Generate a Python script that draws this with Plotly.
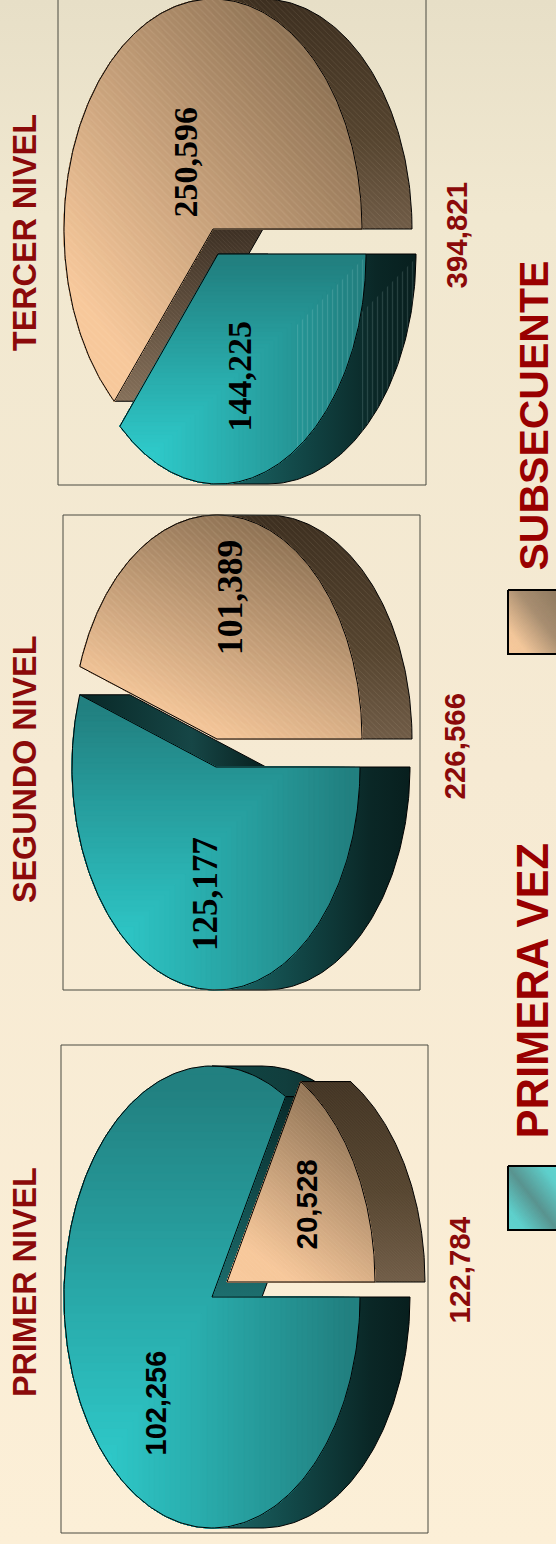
import numpy as np
import plotly.graph_objects as go

# ---------- data ----------
LEVELS = ["PRIMER NIVEL", "SEGUNDO NIVEL", "TERCER NIVEL"]
PRIMERA_VEZ = [102256, 125177, 144225]
SUBSECUENTE = [20528, 101389, 250596]
TOTALS = [122784, 226566, 394821]
SERIES_NAMES = ["PRIMERA VEZ", "SUBSECUENTE"]

# ---------- layout ----------
W, H = 556, 1544
DEPTH = 50
GEOM = [
    dict(frame=(61, 1045, 428, 1533), blue=(212, 1297, 148, 231), tan=(227, 1282, 148, 231),
         order=("blue", "tan"), title=(25, 1282), total=(458.5, 1270),
         lab_blue=(155.5, 1403, 29, "Liberation Sans"), lab_tan=(305.5, 1205, 29.5, "Liberation Sans"),
         tanw=(.35, .65), hatch=3),
    dict(frame=(63, 515, 420, 990), blue=(216, 767, 144, 223), tan=(217, 739, 145, 224),
         order=("tan", "blue"), title=(25, 770), total=(453.5, 746),
         lab_blue=(205, 894, 35, "Liberation Serif"), lab_tan=(230, 598, 35.5, "Liberation Serif"),
         tanw=(.35, .65), hatch=5),
    dict(frame=(58, -3, 426, 485), blue=(218, 254, 148, 230), tan=(213, 229, 149, 230),
         order=("tan", "blue"), title=(25, 233), total=(455.5, 235),
         lab_blue=(238.5, 376, 34, "Liberation Serif"), lab_tan=(184.5, 162, 34, "Liberation Serif"),
         tanw=(.5, .5), hatch=5),
]
DARK_RED = "#8b0a0a"


def arc(c, a0, a1, n=90):
    t = np.radians(np.linspace(a0, a1, n))
    return c[0] + c[2] * np.cos(t), c[1] - c[3] * np.sin(t)


def clip(x, y, nx, ny, d):
    """Keep the part of the polygon where nx*x + ny*y <= d."""
    ox, oy = [], []
    n = len(x)
    for i in range(n):
        x0, y0, x1, y1 = x[i], y[i], x[(i + 1) % n], y[(i + 1) % n]
        f0, f1 = nx * x0 + ny * y0 - d, nx * x1 + ny * y1 - d
        if f0 <= 0:
            ox.append(x0); oy.append(y0)
        if f0 * f1 < 0:
            s = f0 / (f0 - f1)
            ox.append(x0 + s * (x1 - x0)); oy.append(y0 + s * (y1 - y0))
    return np.array(ox), np.array(oy)


def hex2rgb(h):
    return np.array([int(h[i:i + 2], 16) for i in (1, 3, 5)], float)


def mix(stops, t):
    """stops = [(pos, '#hex'), ...]"""
    for (p0, c0), (p1, c1) in zip(stops, stops[1:]):
        if t <= p1:
            s = max(0, (t - p0) / (p1 - p0))
            v = hex2rgb(c0) * (1 - s) + hex2rgb(c1) * s
            return "rgb(%d,%d,%d)" % tuple(v)
    return "rgb(%d,%d,%d)" % tuple(hex2rgb(stops[-1][1]))


fig = go.Figure()


def poly(x, y, fill=None, line=None, lw=1, grad=None, pattern=None):
    kw = dict(x=list(x) + [x[0]], y=list(y) + [y[0]], mode="lines", fill="toself",
              hoverinfo="skip", showlegend=False,
              line=dict(color=line or "rgba(0,0,0,0)", width=lw if line else 0))
    kw["fillcolor"] = fill or "rgba(0,0,0,0)"
    if grad:
        kw["fillgradient"] = grad
    if pattern:
        kw["fillpattern"] = pattern
    fig.add_trace(go.Scatter(**kw))


def outline(x, y, lw=1):
    fig.add_trace(go.Scatter(x=list(x) + [x[0]], y=list(y) + [y[0]], mode="lines",
                             line=dict(color="#000000", width=lw),
                             hoverinfo="skip", showlegend=False))


def corner_gradient(x, y, stops, steps=56):
    x0, x1, y0, y1 = min(x), max(x), min(y), max(y)
    for i in range(steps, 0, -1):
        t = i / steps
        cx, cy = clip(x, y, 1, 0, x0 + (x1 - x0) * t)
        if len(cx) >= 3:
            cx, cy = clip(cx, cy, 0, -1, -(y1 - (y1 - y0) * t))
        if len(cx) >= 3:
            poly(cx, cy, fill=mix(stops, t), line=mix(stops, t), lw=0.5)


def diag_gradient(x, y, stops, wx, wy, steps=56):
    x0, x1, y0, y1 = min(x), max(x), min(y), max(y)
    for i in range(steps, 0, -1):
        t = i / steps
        nx, ny = wx / (x1 - x0), -wy / (y1 - y0)
        cx, cy = clip(x, y, nx, ny, t + nx * x0 + ny * y1)
        if len(cx) >= 3:
            poly(cx, cy, fill=mix(stops, t), line=mix(stops, t), lw=0.5)


def hatch(size):
    return dict(shape="\\", fgcolor="rgba(255,235,205,0.2)", bgcolor="rgba(0,0,0,0)",
                size=size, solidity=0.22)


TEAL_STOPS = [(0, "#2fc9c9"), (.15, "#2fc9c9"), (.97, "#228080"), (1, "#228080")]
TAN_STOPS = [(0, "#f9ca9d"), (.17, "#f7c89b"), (.85, "#8f7355"), (1, "#8f7355")]
STREAK = dict(shape="|", fgcolor="rgba(210,240,235,0.28)", bgcolor="rgba(0,0,0,0)", size=5, solidity=0.25)

# ---------- background ----------
poly([0, W, W, 0], [0, 0, H, H],
     grad=dict(type="vertical", start=0, stop=H,
               colorscale=[[0, "#e7dfc7"], [.14, "#f1e8d0"], [.5, "#f6ead3"], [1, "#fcefd7"]]))

# ---------- pies ----------
for idx, g in enumerate(GEOM):
    total = PRIMERA_VEZ[idx] + SUBSECUENTE[idx]
    ang_blue = PRIMERA_VEZ[idx] / total * 360
    ang_tan = SUBSECUENTE[idx] / total * 360

    for which in g["order"]:
        c = g[which]
        if which == "blue":
            a0, a1 = -ang_blue, 0.0
        else:
            a0, a1 = 0.0, ang_tan

        # radial wall at the far edge of the slice
        ea = a0 if which == "blue" else a1
        ex, ey = arc(c, ea, ea, 1)
        fx = [c[0], c[0] + DEPTH, ex[0] + DEPTH, ex[0]]
        fy = [c[1], c[1], ey[0], ey[0]]
        if which == "blue":
            if idx == 0:
                gr = dict(type="vertical", start=float(ey[0]), stop=float(c[1]),
                          colorscale=[[0, "#082a2a"], [1, "#1d6e6e"]])
            else:
                gr = dict(type="horizontal", start=float(ex[0]), stop=float(c[0] + DEPTH),
                          colorscale=[[0, "#082726"], [.6, "#164646"], [1, "#08201f"]])
            poly(fx, fy, line="#000000", grad=gr)
        else:
            gr = dict(type="vertical", start=float(c[1]), stop=float(ey[0]),
                      colorscale=[[0, "#3d3024"], [1, "#85705a"]])
            poly(fx, fy, line="#000000", grad=gr)
            poly(fx, fy, pattern=hatch(3))

        # outer wall: the part of the rim that faces the viewer
        ranges = []
        lo, hi = max(a0, -90), min(a1, 90)
        if hi > lo:
            ranges.append((lo, hi))
        if a0 < -270:
            ranges.append((a0, -270))
        for r0, r1 in ranges:
            ax, ay = arc(c, r0, r1)
            px = np.r_[ax, ax[::-1] + DEPTH]
            py = np.r_[ay, ay[::-1]]
            if which == "blue":
                if r1 <= -270:
                    gr = dict(type="horizontal", start=float(c[0]), stop=float(ax[0] + DEPTH),
                              colorscale=[[0, "#0f4645"], [.6, "#113e3d"], [1, "#0b2c2c"]])
                else:
                    gr = dict(type="horizontal", start=float(c[0]), stop=float(c[0] + c[2] + DEPTH),
                              colorscale=[[0, "#1c6a6a"], [.45, "#114444"], [.8, "#0a2726"], [1, "#081f1e"]])
                poly(px, py, line="#000000", grad=gr)
            else:
                gr = dict(type="vertical", start=float(c[1] - c[3]), stop=float(c[1]),
                          colorscale=[[0, "#3d2f20"], [.6, "#55442f"], [1, "#705c47"]])
                poly(px, py, line="#000000", grad=gr)
                poly(px, py, pattern=hatch(g["hatch"] - 1))
            # streaks on the third pie's teal wall
            if idx == 2 and which == "blue":
                sx, sy = clip(px, py, -1, 0, -362)
                sx, sy = clip(sx, sy, -1, -1, -674)
                poly(sx, sy, pattern=STREAK)

        # top face
        ax, ay = arc(c, a0, a1, 240)
        tx = np.r_[c[0], ax]
        ty = np.r_[c[1], ay]
        if which == "blue":
            corner_gradient(tx, ty, TEAL_STOPS)
            if idx == 2:
                sx, sy = clip(tx, ty, -1, 0, -297)
                sx, sy = clip(sx, sy, -1, -1, -622)
                poly(sx, sy, pattern=STREAK)
        else:
            diag_gradient(tx, ty, TAN_STOPS, *g["tanw"])
            poly(tx, ty, pattern=hatch(g["hatch"]))
        outline(tx, ty)

    # frame
    fx0, fy0, fx1, fy1 = g["frame"]
    fig.add_shape(type="rect", x0=fx0, x1=fx1, y0=fy0, y1=fy1,
                  line=dict(color="#4a4a40", width=1), fillcolor="rgba(0,0,0,0)", layer="above")


def note(x, y, text, size, family, color):
    fig.add_annotation(x=x, y=y, xref="x", yref="y", text=text, showarrow=False, textangle=-90,
                       font=dict(size=size, family=family, color=color), xanchor="center", yanchor="middle")


for idx, g in enumerate(GEOM):
    note(*g["title"], f"<b>{LEVELS[idx]}</b>", 32.3, "Liberation Sans", DARK_RED)
    note(*g["total"], f"<b>{TOTALS[idx]:,}</b>", 29.5, "Liberation Sans", DARK_RED)
    bx, by, bs, bf = g["lab_blue"]
    note(bx, by, f"<b>{PRIMERA_VEZ[idx]:,}</b>", bs, bf, "#000000")
    tx_, ty_, ts, tf = g["lab_tan"]
    note(tx_, ty_, f"<b>{SUBSECUENTE[idx]:,}</b>", ts, tf, "#000000")

# ---------- legend ----------
SWATCHES = [((508, 1166, 558, 1230), [(0, "#62d4d0"), (.18, "#5fd0cc"), (.5, "#5a9490"), (.85, "#5fd0cc"), (1, "#62d4d0")]),
            ((508, 590, 558, 654), [(0, "#f9ca9d"), (.2, "#f3c79b"), (.6, "#a98f72"), (1, "#8f7a60")])]
for (x0, y0, x1, y1), stops in SWATCHES:
    diag_gradient(np.array([x0, x1, x1, x0], float), np.array([y0, y0, y1, y1], float), stops, .5, .5)
    outline([x0, x1, x1, x0], [y0, y0, y1, y1], lw=2)
note(532.5, 991, f"<b>{SERIES_NAMES[0]}</b>", 43.5, "Liberation Sans", "#990000")
note(533.5, 416, f"<b>{SERIES_NAMES[1]}</b>", 41, "Liberation Sans", "#990000")

fig.update_layout(width=W, height=H, autosize=False, margin=dict(l=0, r=0, t=0, b=0),
                  paper_bgcolor="#f6ead3", plot_bgcolor="#f6ead3", showlegend=False,
                  xaxis=dict(range=[0, W], visible=False, fixedrange=True),
                  yaxis=dict(range=[H, 0], visible=False, fixedrange=True))
fig.write_html("out.html", post_script='document.body.style.margin="0";',
               config=dict(displayModeBar=False))
